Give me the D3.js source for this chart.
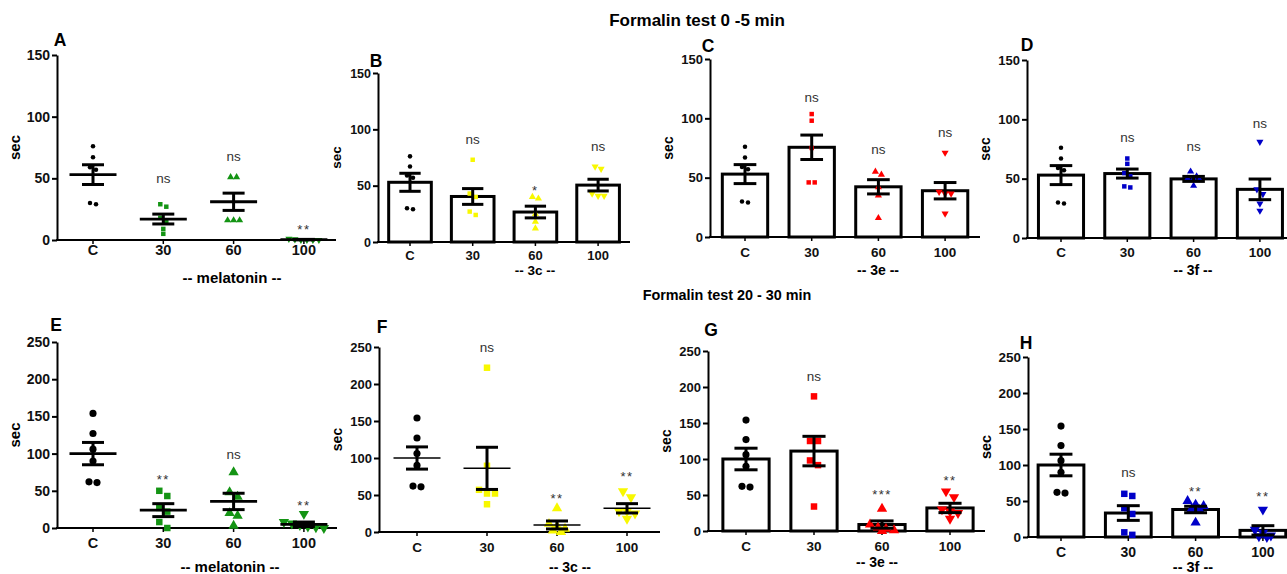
<!DOCTYPE html>
<html>
<head>
<meta charset="utf-8">
<script src="https://cdn.jsdelivr.net/npm/d3@7"></script>
<style>
  body { margin: 0; background: #fff; }
  svg { display: block; }
  text { font-family: Arial, "Liberation Sans", sans-serif; }
</style>
</head>
<body>
<svg id="chart" width="1287" height="574"></svg>
<script>
// ---- data ----
const groups = ['C', '30', '60', '100'];
const ticksEarly = [0, 50, 100, 150];
const ticksLate = [0, 50, 100, 150, 200, 250];

// control group (same in every panel of a row)
const ctrlEarly = [76, 67, 59, 57, 30, 29];
const ctrlLate = [154, 127, 106, 90, 61, 62];

// 0-5 min
const ptsA = [ctrlEarly, [29, 27, 18, 15, 9, 5], [51, 51, 16, 16, 16], [1, 0.5, 0, 0, 0, 0]];
const meanA = [53, 17, 31, 0.3];
const semA = [8, 4, 7, 0.2];
const sigA = ['', 'ns', 'ns', '**'];
const sigLevelA = [0, 49, 67, 11];

const ptsB = [ctrlEarly, [73, 43, 40, 27, 24], [40, 38.6, 25, 18, 12], [67, 65, 43, 41, 41]];
const meanB = [53, 40.4, 26.6, 50.5];
const semB = [8, 7, 5.2, 5.2];
const sigB = ['', 'ns', '*', 'ns'];
const sigLevelB = [0, 90, 49, 84];

const ptsC = [ctrlEarly, [103.6, 98, 75, 46, 46], [55, 52.6, 42, 35, 16], [71, 38, 36.6, 36.6, 19.7]];
const meanC = [53, 75.6, 42.3, 39];
const semC = [8, 10.3, 6, 6.9];
const sigC = ['', 'ns', 'ns', 'ns'];
const sigLevelC = [0, 117, 73, 87];

const ptsD = [ctrlEarly, [67, 62.5, 54.7, 52, 43.5, 42.6], [56, 52, 50, 49, 50, 44], [81, 41, 37, 29, 23]];
const meanD = [53, 54.3, 49.8, 41];
const semD = [8, 3.8, 2.1, 8.7];
const sigD = ['', 'ns', 'ns', 'ns'];
const sigLevelD = [0, 84, 76, 96];

// 20-30 min
const ptsE = [ctrlLate, [50, 43, 27, 22, 8, 0], [75, 48, 42, 20, 16.5, 3], [19, 8, 6, 4, 2, 1, 0]];
const meanE = [100, 24, 35.7, 5];
const semE = [15, 8.7, 11, 3];
const sigE = ['', '**', 'ns', '**'];
const sigLevelE = [0, 69, 98, 35];

const ptsF = [ctrlLate, [222, 89.5, 57, 52, 52, 37.5], [32, 11, 8, 4.5, 2, 0], [55, 47, 28, 28, 25, 18]];
const meanF = [100, 86, 9.5, 32];
const semF = [15, 28.5, 5.4, 6.3];
const sigF = ['', 'ns', '**', '**'];
const sigLevelF = [0, 248, 50, 80];

const ptsG = [ctrlLate, [187, 125, 125, 98, 91.5, 34], [31, 9, 5, 3, 1, 0], [55, 47, 30, 27, 25, 17]];
const meanG = [100, 111, 9, 32];
const semG = [15, 20.5, 5, 6.5];
const sigG = ['', 'ns', '***', '**'];
const sigLevelG = [0, 213, 55, 75];

const ptsH = [ctrlLate, [60, 57, 40, 32, 6.5, 3], [50, 45, 43, 39, 37.5, 20], [38, 10, 6, 2, 1, 0]];
const meanH = [100, 33.3, 38.2, 9.2];
const semH = [15, 10.2, 4.5, 6.5];
const sigH = ['', 'ns', '**', '**'];
const sigLevelH = [0, 88, 68, 61];

// ---- layout ----
const green = '#149414', yellow = '#f8f800', red = '#ff0000', blue = '#0000c8';

const panels = [
  { id: 'A', pts: ptsA, mean: meanA, sem: semA, sig: sigA, lvl: sigLevelA, color: green, bars: false, drug: '-- melatonin --',
    ticks: ticksEarly, max: 150, x0: 57, x1: 336, c0: 93, step: 70.3, y0: 240, yTop: 55, fs: 14.5, letter: [60, 39], title: [232, 278], catY: 250, small: true },
  { id: 'B', pts: ptsB, mean: meanB, sem: semB, sig: sigB, lvl: sigLevelB, color: yellow, bars: true, drug: '-- 3c --',
    ticks: ticksEarly, max: 150, x0: 378, x1: 630, c0: 410, step: 62.7, y0: 242, yTop: 73, fs: 13, letter: [376, 60], title: [535, 270], catY: 255, small: true },
  { id: 'C', pts: ptsC, mean: meanC, sem: semC, sig: sigC, lvl: sigLevelC, color: red, bars: true, drug: '-- 3e --',
    ticks: ticksEarly, max: 150, x0: 710, x1: 980, c0: 745, step: 66.7, y0: 237, yTop: 59, fs: 13.5, letter: [708, 45], title: [878, 270], catY: 252, small: true },
  { id: 'D', pts: ptsD, mean: meanD, sem: semD, sig: sigD, lvl: sigLevelD, color: blue, bars: true, drug: '-- 3f --',
    ticks: ticksEarly, max: 150, x0: 1027, x1: 1295, c0: 1061, step: 66.3, y0: 238, yTop: 60, fs: 13.5, letter: [1027, 44], title: [1193, 270], catY: 252, small: true },
  { id: 'E', pts: ptsE, mean: meanE, sem: semE, sig: sigE, lvl: sigLevelE, color: green, bars: false, drug: '-- melatonin --',
    ticks: ticksLate, max: 250, x0: 57, x1: 337, c0: 93, step: 70.3, y0: 528, yTop: 342, fs: 14.5, letter: [56, 324], title: [230, 567], catY: 543, small: false },
  { id: 'F', pts: ptsF, mean: meanF, sem: semF, sig: sigF, lvl: sigLevelF, color: yellow, bars: false, drug: '-- 3c --', thinMean: true,
    ticks: ticksLate, max: 250, x0: 379, x1: 660, c0: 417, step: 70, y0: 532, yTop: 347, fs: 13.5, letter: [382, 326], title: [570, 567], catY: 547, small: false },
  { id: 'G', pts: ptsG, mean: meanG, sem: semG, sig: sigG, lvl: sigLevelG, color: red, bars: true, drug: '-- 3e --',
    ticks: ticksLate, max: 250, x0: 708, x1: 985, c0: 746, step: 68, y0: 531, yTop: 351, fs: 13.5, letter: [711, 329], title: [877, 562], catY: 546, small: false },
  { id: 'H', pts: ptsH, mean: meanH, sem: semH, sig: sigH, lvl: sigLevelH, color: blue, bars: true, drug: '-- 3f --',
    ticks: ticksLate, max: 250, x0: 1028, x1: 1295, c0: 1061, step: 67.3, y0: 537, yTop: 357, fs: 14, letter: [1026, 342], title: [1193, 567], catY: 552, small: false }
];

const svg = d3.select('#chart');
svg.append('rect').attr('width', 1287).attr('height', 574).attr('fill', '#fff');

svg.append('text')
  .attr('x', 697).attr('y', 26)
  .attr('text-anchor', 'middle')
  .attr('font-weight', 'bold').attr('font-size', 17)
  .text('Formalin test 0 -5 min');

svg.append('text')
  .attr('x', 727).attr('y', 300)
  .attr('text-anchor', 'middle')
  .attr('font-weight', 'bold').attr('font-size', 14.4)
  .text('Formalin test 20 - 30 min');

const shapes = [d3.symbolCircle, d3.symbolSquare, d3.symbolTriangle, d3.symbolTriangle];

// spread points with nearly equal values side by side
function swarm(vals, y, d) {
  const sorted = vals.map(v => ({ v, py: y(v) })).sort((a, b) => a.py - b.py);
  const out = [];
  let cluster = [];
  const flush = () => {
    cluster.forEach((c, i) => { c.dx = (i - (cluster.length - 1) / 2) * d; out.push(c); });
    cluster = [];
  };
  sorted.forEach(s => {
    if (cluster.length && s.py - cluster[0].py > d * 0.8) flush();
    cluster.push(s);
  });
  flush();
  return out;
}

function drawPanel(p) {
  const g = svg.append('g').attr('class', 'panel-' + p.id);
  const y = d3.scaleLinear().domain([0, p.max]).range([p.y0, p.yTop]);
  const x = d3.scaleBand()
    .domain(groups)
    .range([p.c0 - p.step / 2, p.c0 + p.step * 3.5])
    .paddingInner(0.32)
    .paddingOuter(0.16);
  const cx = k => x(k) + x.bandwidth() / 2;

  // y axis
  const yAxis = g.append('g')
    .attr('transform', `translate(${p.x0},0)`)
    .call(d3.axisLeft(y).tickValues(p.ticks).tickSize(5).tickSizeOuter(0).tickPadding(2));
  yAxis.select('.domain').attr('stroke-width', 2).attr('stroke', '#000');
  yAxis.selectAll('.tick line').attr('stroke-width', 2);
  yAxis.selectAll('.tick text')
    .attr('font-size', p.fs - 0.5)
    .attr('font-weight', 'bold')
    .attr('font-family', 'Arial, "Liberation Sans", sans-serif')
    .attr('fill', '#111');

  // x axis
  const xAxis = g.append('g')
    .attr('transform', `translate(0,${p.y0})`)
    .call(d3.axisBottom(x).tickSize(4).tickSizeOuter(0).tickPadding(p.catY - p.y0 - 4 - 0.35 * p.fs));
  xAxis.select('.domain').remove();
  xAxis.selectAll('.tick line').attr('stroke-width', 1.5);
  xAxis.selectAll('.tick text')
    .attr('font-size', p.fs)
    .attr('font-weight', 'bold')
    .attr('font-family', 'Arial, "Liberation Sans", sans-serif')
    .attr('fill', '#111');
  g.append('line')
    .attr('x1', p.x0 - 1).attr('x2', p.x1)
    .attr('y1', p.y0).attr('y2', p.y0)
    .attr('stroke', '#000').attr('stroke-width', 2);

  // axis titles
  g.append('text')
    .attr('transform', `translate(${p.x0 - 37},${(p.y0 + p.yTop) / 2}) rotate(-90)`)
    .attr('text-anchor', 'middle')
    .attr('font-weight', 'bold').attr('font-size', p.fs + 0.5)
    .text('sec');
  g.append('text')
    .attr('x', p.title[0]).attr('y', p.title[1] + 5)
    .attr('text-anchor', 'middle')
    .attr('font-weight', 'bold').attr('font-size', p.fs + 0.5)
    .text(p.drug);
  g.append('text')
    .attr('x', p.letter[0]).attr('y', p.letter[1] + 6.5)
    .attr('text-anchor', 'middle')
    .attr('font-weight', 'bold').attr('font-size', 17.5)
    .text(p.id);

  // bars
  if (p.bars) {
    g.selectAll('rect.bar')
      .data(groups)
      .join('rect')
      .attr('class', 'bar')
      .attr('x', k => x(k))
      .attr('width', x.bandwidth())
      .attr('y', (k, i) => y(p.mean[i]))
      .attr('height', (k, i) => p.y0 - y(p.mean[i]))
      .attr('fill', '#fff')
      .attr('stroke', '#000')
      .attr('stroke-width', 3);
  }

  // points
  const markerD = p.small ? 4.5 : 6.5;
  const areas = p.small ? [16, 20, 22, 22] : [40, 42, 46, 46];
  groups.forEach((k, i) => {
    const placed = swarm(p.pts[i], y, markerD + 1.5);
    g.selectAll(null)
      .data(placed)
      .join('path')
      .attr('d', d3.symbol().type(shapes[i]).size(areas[i]))
      .attr('transform', d => `translate(${cx(k) + d.dx},${d.py})` + (i === 3 ? ' rotate(180)' : ''))
      .attr('fill', i === 0 ? '#000' : p.color);
  });

  // mean / SEM
  const capW = p.bars ? x.bandwidth() * 0.25 : 11;
  groups.forEach((k, i) => {
    const m = p.mean[i], s = p.sem[i], c = cx(k);
    if (!p.bars) {
      g.append('line')
        .attr('x1', c - 23.5).attr('x2', c + 23.5)
        .attr('y1', y(m)).attr('y2', y(m))
        .attr('stroke', '#000').attr('stroke-width', p.thinMean ? 1.5 : 2.8);
    }
    g.append('line')
      .attr('x1', c).attr('x2', c)
      .attr('y1', y(m - s)).attr('y2', y(m + s))
      .attr('stroke', '#000').attr('stroke-width', 3);
    [m - s, m + s].forEach(v => {
      g.append('line')
        .attr('x1', c - capW).attr('x2', c + capW)
        .attr('y1', y(v)).attr('y2', y(v))
        .attr('stroke', '#000').attr('stroke-width', 3);
    });
  });

  // significance labels
  groups.forEach((k, i) => {
    const s = p.sig[i];
    if (!s) return;
    const star = s.includes('*');
    const fs = star ? 13 : 13.5;
    g.append('text')
      .attr('x', cx(k))
      .attr('y', y(p.lvl[i]) + (star ? 0.6 : 0.27) * fs)
      .attr('text-anchor', 'middle')
      .attr('font-size', fs)
      .attr('letter-spacing', star ? 1.5 : 0)
      .attr('fill', '#333')
      .text(s);
  });
}

panels.forEach(drawPanel);
</script>
</body>
</html>
